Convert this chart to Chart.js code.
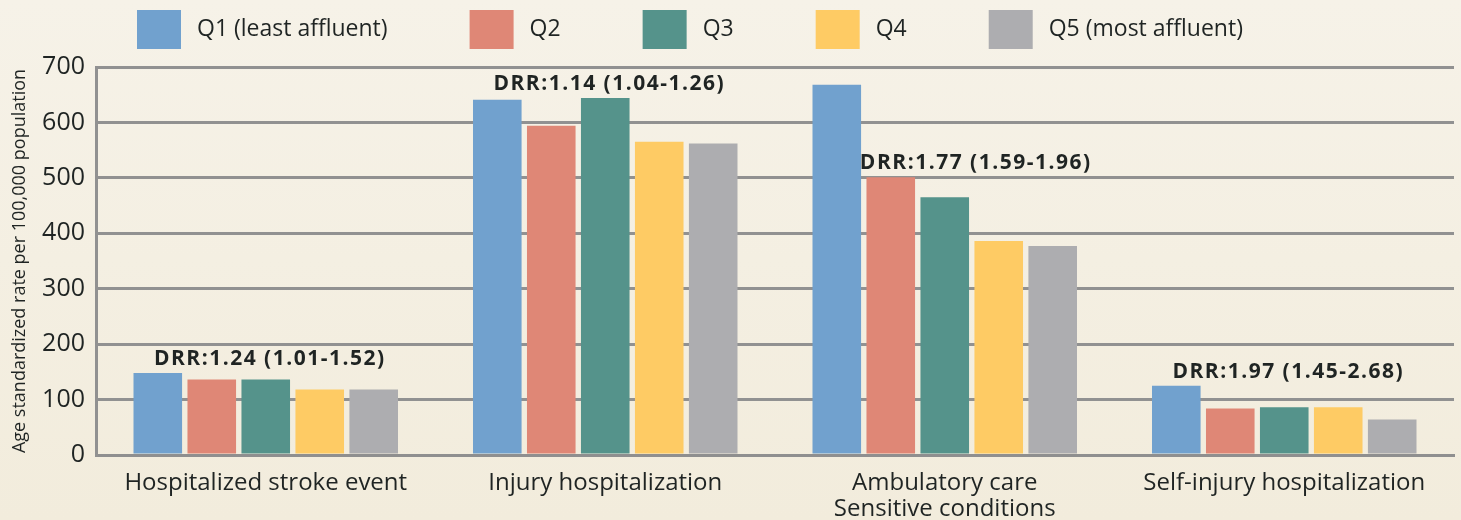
<!DOCTYPE html>
<html>
<head>
<meta charset="utf-8">
<script src="https://cdn.jsdelivr.net/npm/chart.js@4.4.1/dist/chart.umd.min.js"></script>
<style>
  html, body { margin: 0; padding: 0; }
  body { width: 1461px; height: 520px; overflow: hidden; background: linear-gradient(#f6f2e8, #f2ecdc); }
  #wrap { position: relative; width: 1461px; height: 520px; }
</style>
</head>
<body>
<div id="wrap"><canvas id="rateChart"></canvas></div>
<script>
const categories = [
  "Hospitalized stroke event",
  "Injury hospitalization",
  ["Ambulatory care", "Sensitive conditions"],
  "Self-injury hospitalization"
];
const quintiles = ["Q1 (least affluent)", "Q2", "Q3", "Q4", "Q5 (most affluent)"];
const q1Values = [148, 641, 668, 125];
const q2Values = [136, 594, 501, 84];
const q3Values = [136, 644, 465, 86];
const q4Values = [118, 565, 386, 86];
const q5Values = [118, 562, 377, 64];
const yTicks = [0, 100, 200, 300, 400, 500, 600, 700];
const drrLabels = ["DRR:1.24 (1.01-1.52)", "DRR:1.14 (1.04-1.26)", "DRR:1.77 (1.59-1.96)", "DRR:1.97 (1.45-2.68)"];
// first bar (quintile index) that each DRR label sits over
const drrFrom = [0, 0, 1, 0];

const colors = ["#71a1ce", "#df8776", "#55938b", "#fecb64", "#adadb0"];
const textColor = "#1f2423";
const fontFamily = "'Open Sans', sans-serif";

// custom legend drawn across the top
const topLegend = {
  id: "topLegend",
  afterDraw(chart) {
    const ctx = chart.ctx;
    ctx.save();
    ctx.font = "23px " + fontFamily;
    ctx.textBaseline = "middle";
    let x = 137;
    chart.data.datasets.forEach((ds) => {
      ctx.fillStyle = ds.backgroundColor;
      ctx.fillRect(x, 10, 44, 39);
      ctx.fillStyle = textColor;
      ctx.fillText(ds.label, x + 60, 29);
      x += 60 + ctx.measureText(ds.label).width + 82;
    });
    ctx.restore();
  }
};

// DRR text over each group
const drrText = {
  id: "drrText",
  afterDatasetsDraw(chart) {
    const ctx = chart.ctx;
    ctx.save();
    ctx.font = "bold 21px " + fontFamily;
    ctx.letterSpacing = "1.5px";
    ctx.textAlign = "center";
    ctx.textBaseline = "middle";
    ctx.fillStyle = textColor;
    drrLabels.forEach((txt, i) => {
      let xs = [], top = Infinity;
      for (let d = drrFrom[i]; d < chart.data.datasets.length; d++) {
        const bar = chart.getDatasetMeta(d).data[i];
        xs.push(bar.x);
        top = Math.min(top, bar.y);
      }
      const cx = xs.reduce((a, b) => a + b, 0) / xs.length + 4;
      ctx.fillText(txt, cx, top - 14);
    });
    ctx.restore();
  }
};

const seriesValues = [q1Values, q2Values, q3Values, q4Values, q5Values];

new Chart(document.getElementById("rateChart").getContext("2d"), {
  type: "bar",
  data: {
    labels: categories,
    datasets: seriesValues.map((vals, i) => ({
      label: quintiles[i],
      data: vals,
      backgroundColor: colors[i],
      borderWidth: 0,
      categoryPercentage: 0.795,
      barPercentage: 0.9
    }))
  },
  options: {
    responsive: true,
    maintainAspectRatio: false,
    animation: false,
    layout: { padding: { top: 67, right: 7, bottom: 0, left: 0 } },
    plugins: {
      legend: { display: false },
      tooltip: { enabled: false }
    },
    scales: {
      x: {
        grid: { display: false },
        border: { display: true, color: "#8f8f8f", width: 3 },
        ticks: {
          color: textColor,
          font: { family: fontFamily, size: 24, lineHeight: 1.05 },
          padding: 8,
          maxRotation: 0,
          autoSkip: false
        },
        afterFit(scale) { scale.height = 65; }
      },
      y: {
        min: 0,
        max: 700,
        afterBuildTicks(scale) { scale.ticks = yTicks.map(v => ({ value: v })); },
        grid: { color: "#919191", lineWidth: 3, drawTicks: false },
        border: { display: true, color: "#919191", width: 3 },
        ticks: {
          color: textColor,
          font: { family: fontFamily, size: 25 },
          padding: 11
        },
        title: {
          display: true,
          text: "Age standardized rate per 100,000 population",
          color: textColor,
          font: { family: fontFamily, size: 18 },
          padding: { top: 9, bottom: 0 }
        },
        afterFit(scale) { scale.width = 96; }
      }
    }
  },
  plugins: [topLegend, drrText]
});
</script>
</body>
</html>
